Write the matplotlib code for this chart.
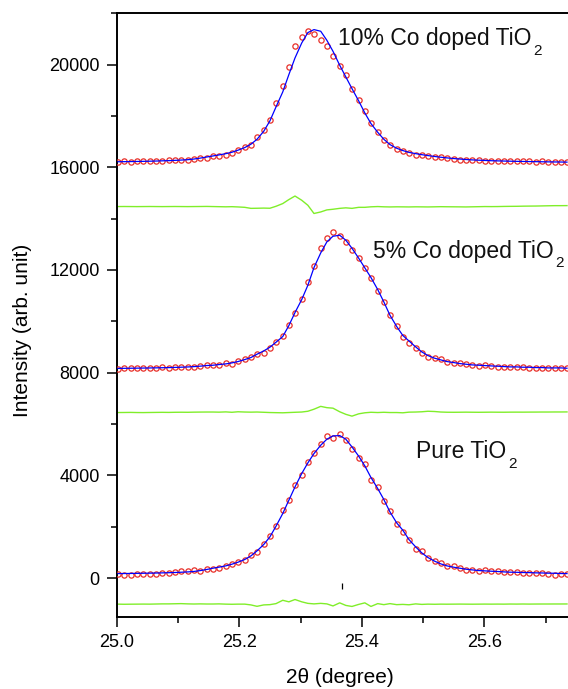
import numpy as np
import matplotlib
matplotlib.use("Agg")
import matplotlib.pyplot as plt
from matplotlib.ticker import MultipleLocator

plt.rcParams['font.family'] = ['Liberation Sans', 'DejaVu Sans']

# 2-theta sampling grid (degree)
two_theta = [25.002, 25.012, 25.023, 25.033, 25.043, 25.054, 25.064, 25.074, 25.085, 25.095,
             25.105, 25.116, 25.126, 25.136, 25.147, 25.157, 25.167, 25.178, 25.188, 25.198,
             25.209, 25.219, 25.229, 25.240, 25.250, 25.260, 25.271, 25.281, 25.291, 25.302,
             25.312, 25.322, 25.333, 25.343, 25.353, 25.364, 25.374, 25.384, 25.395, 25.405,
             25.415, 25.426, 25.436, 25.446, 25.457, 25.467, 25.477, 25.488, 25.498, 25.508,
             25.519, 25.529, 25.539, 25.550, 25.560, 25.570, 25.580, 25.591, 25.601, 25.611,
             25.622, 25.632, 25.642, 25.653, 25.663, 25.673, 25.684, 25.694, 25.704, 25.715,
             25.725, 25.735]

# Pure TiO2
pure_obs = [156, 130, 130, 169, 169, 182, 182, 195, 195, 247,
            273, 286, 337, 298, 350, 376, 402, 467, 558, 636,
            727, 908, 1025, 1324, 1661, 2050, 2647, 3063, 3633, 4036,
            4516, 4879, 5217, 5528, 5476, 5632, 5372, 5035, 4690, 4440,
            3842, 3535, 2998, 2610, 2128, 1817, 1492, 1142, 1051, 805,
            675, 584, 480, 467, 389, 311, 337, 298, 311, 285,
            273, 234, 234, 234, 208, 195, 195, 195, 182, 130,
            156, 156]
pure_calc = [180, 182, 185, 188, 192, 196, 201, 207, 214, 222,
             232, 245, 262, 295, 340, 389, 430, 480, 545, 623,
             728, 868, 1063, 1312, 1608, 2024, 2518, 3037, 3554, 4076,
             4490, 4853, 5178, 5411, 5540, 5553, 5411, 5112, 4750, 4372,
             3920, 3492, 3064, 2581, 2153, 1869, 1505, 1218, 985, 805,
             662, 558, 480, 428, 389, 350, 324, 298, 285, 272,
             260, 246, 234, 230, 221, 218, 208, 204, 195, 192,
             182, 180]
pure_diff = [-1010, -1015, -1012, -1010, -1008, -1010, -1005, -1000, -1000, -995,
             -990, -1000, -1005, -1000, -1005, -1005, -1000, -1010, -1015, -1010,
             -1010, -1040, -1095, -1040, -1030, -990, -860, -920, -830, -920,
             -980, -1000, -980, -1000, -1080, -960, -1060, -1100, -1020, -960,
             -1100, -990, -1030, -990, -1030, -1020, -1035, -1000, -1020, -1010,
             -1015, -1010, -1012, -1010, -1008, -1010, -1012, -1010, -1008, -1010,
             -1008, -1010, -1006, -1008, -1005, -1008, -1006, -1005, -1005, -1004,
             -1004, -1003]

# 5% Co doped TiO2
co5_obs = [8164, 8170, 8177, 8170, 8190, 8190, 8200, 8205, 8200, 8215,
           8225, 8230, 8240, 8260, 8292, 8305, 8305, 8383, 8357, 8460,
           8526, 8604, 8721, 8760, 8966, 9187, 9421, 9861, 10316, 10874,
           11523, 12173, 12874, 13263, 13470, 13314, 13107, 12769, 12485, 12095,
           11706, 11200, 10745, 10250, 9830, 9410, 9174, 8966, 8786, 8630,
           8591, 8526, 8435, 8396, 8383, 8344, 8318, 8266, 8292, 8266,
           8240, 8227, 8227, 8214, 8214, 8201, 8188, 8175, 8175, 8175,
           8175, 8175]
co5_calc = [8168, 8172, 8175, 8178, 8182, 8186, 8190, 8195, 8200, 8207,
            8215, 8225, 8238, 8255, 8280, 8292, 8318, 8344, 8383, 8435,
            8513, 8591, 8721, 8849, 8993, 9187, 9408, 9837, 10343, 10850,
            11406, 12095, 12665, 13093, 13314, 13353, 13159, 12847, 12458, 12082,
            11706, 11239, 10757, 10239, 9800, 9450, 9238, 9005, 8810, 8668,
            8565, 8500, 8435, 8396, 8357, 8331, 8305, 8292, 8279, 8266,
            8253, 8240, 8227, 8227, 8214, 8214, 8201, 8201, 8188, 8188,
            8188, 8175]
co5_diff = [6450, 6452, 6455, 6450, 6448, 6452, 6455, 6458, 6455, 6460,
            6462, 6460, 6465, 6468, 6470, 6470, 6465, 6475, 6460, 6480,
            6470, 6465, 6470, 6460, 6450, 6445, 6440, 6450, 6460, 6470,
            6500, 6580, 6690, 6640, 6620, 6480, 6380, 6310, 6400, 6440,
            6460, 6450, 6460, 6450, 6450, 6440, 6465, 6470, 6480, 6500,
            6490, 6470, 6462, 6460, 6462, 6465, 6462, 6460, 6462, 6465,
            6463, 6462, 6465, 6466, 6465, 6467, 6468, 6470, 6470, 6472,
            6472, 6474]

# 10% Co doped TiO2
co10_obs = [16222, 16230, 16222, 16235, 16240, 16245, 16250, 16260, 16270, 16280,
            16290, 16300, 16320, 16350, 16378, 16428, 16428, 16494, 16559, 16662,
            16779, 16870, 17168, 17467, 17857, 18492, 19153, 19921, 20737, 21073,
            21321, 21178, 20970, 20710, 20321, 19959, 19582, 19063, 18635, 18193,
            17740, 17376, 17052, 16870, 16714, 16636, 16572, 16494, 16467, 16441,
            16402, 16389, 16363, 16339, 16300, 16300, 16285, 16272, 16260, 16246,
            16260, 16260, 16246, 16233, 16233, 16233, 16220, 16233, 16195, 16195,
            16195, 16195]
co10_calc = [16215, 16218, 16222, 16226, 16230, 16236, 16242, 16250, 16258, 16268,
             16280, 16295, 16320, 16355, 16400, 16440, 16480, 16530, 16584, 16665,
             16767, 16896, 17090, 17402, 17803, 18348, 18932, 19609, 20256, 20840,
             21244, 21360, 21295, 20944, 20516, 19971, 19516, 19063, 18581, 18114,
             17701, 17363, 17090, 16883, 16740, 16650, 16580, 16530, 16490, 16455,
             16420, 16390, 16365, 16340, 16320, 16302, 16287, 16275, 16265, 16255,
             16248, 16242, 16236, 16230, 16226, 16222, 16218, 16214, 16210, 16207,
             16204, 16200]
co10_diff = [14470, 14472, 14470, 14468, 14470, 14472, 14470, 14468, 14470, 14472,
             14470, 14468, 14470, 14472, 14475, 14470, 14465, 14460, 14465, 14455,
             14440, 14400, 14404, 14410, 14404, 14481, 14586, 14742, 14880, 14715,
             14520, 14200, 14260, 14340, 14365, 14400, 14420, 14400, 14440, 14440,
             14460, 14470, 14460, 14455, 14460, 14458, 14455, 14460, 14458, 14455,
             14460, 14465, 14462, 14460, 14458, 14455, 14460, 14465, 14470, 14468,
             14470, 14475, 14478, 14480, 14485, 14488, 14490, 14495, 14500, 14505,
             14505, 14507]

bragg_pos = [25.367]
bragg_y = [-320]

labels = ["Pure TiO", "5% Co doped TiO", "10% Co doped TiO"]
label_sub = "2"
label_xy = [(25.489, 4672), (25.418, 12485), (25.361, 20750)]

fig = plt.figure(figsize=(5.68, 6.89), dpi=100)
ax = fig.add_axes([0.2055, 0.1049, 0.81, 0.876])

obs_color = '#e8302a'
calc_color = '#0000ff'
diff_color = '#80ee2a'

for obs, calc, diff in [(pure_obs, pure_calc, pure_diff),
                        (co5_obs, co5_calc, co5_diff),
                        (co10_obs, co10_calc, co10_diff)]:
    ax.plot(two_theta, diff, color=diff_color, lw=1.0, zorder=2)
    ax.plot(two_theta, obs, linestyle='none', marker='o', markersize=3.8,
            markerfacecolor='none', markeredgecolor=obs_color, markeredgewidth=0.9, zorder=3)
    ax.plot(two_theta, calc, color=calc_color, lw=0.9, zorder=4)

ax.plot(bragg_pos, bragg_y, linestyle='none', marker='|', markersize=4.5,
        color='black', markeredgewidth=0.9)

ax.set_xlim(25.0, 25.751)
ax.set_ylim(-1500, 22000)
ax.xaxis.set_major_locator(MultipleLocator(0.2))
ax.xaxis.set_minor_locator(MultipleLocator(0.1))
ax.yaxis.set_major_locator(MultipleLocator(4000))
ax.yaxis.set_minor_locator(MultipleLocator(2000))
ax.xaxis.set_major_formatter(plt.FormatStrFormatter('%.1f'))
ax.yaxis.set_major_formatter(plt.FormatStrFormatter('%d'))

ax.tick_params(which='both', direction='out', width=1.1, labelsize=13, pad=5,
               top=False, right=False)
ax.tick_params(which='major', length=7.2)
ax.tick_params(which='minor', length=4.2)
for s in ax.spines.values():
    s.set_linewidth(1.4)
ax.spines['right'].set_visible(False)

fig.text(0.599, 0.017, "2\u03b8 (degree)", fontsize=15, ha='center', va='center')
fig.text(0.040, 0.521, "Intensity (arb. unit)", fontsize=15, ha='center', va='center',
         rotation=90)

# annotation texts with lowered subscript
fig.canvas.draw()
renderer = fig.canvas.get_renderer()
for txt, (tx, ty) in zip(labels, label_xy):
    t = ax.text(tx, ty, txt, fontsize=16.5, va='baseline', ha='left', color='#111111')
    bb = t.get_window_extent(renderer)
    x0_disp = ax.transData.transform((tx, ty))[0]
    dx_pt = (bb.x1 - x0_disp) * 72.0 / fig.dpi + 1.0
    ax.annotate(label_sub, xy=(tx, ty), xycoords='data', xytext=(dx_pt, -7.0),
                textcoords='offset points', fontsize=11, va='baseline', ha='left',
                color='#111111')

fig.savefig("out.png", dpi=100)
